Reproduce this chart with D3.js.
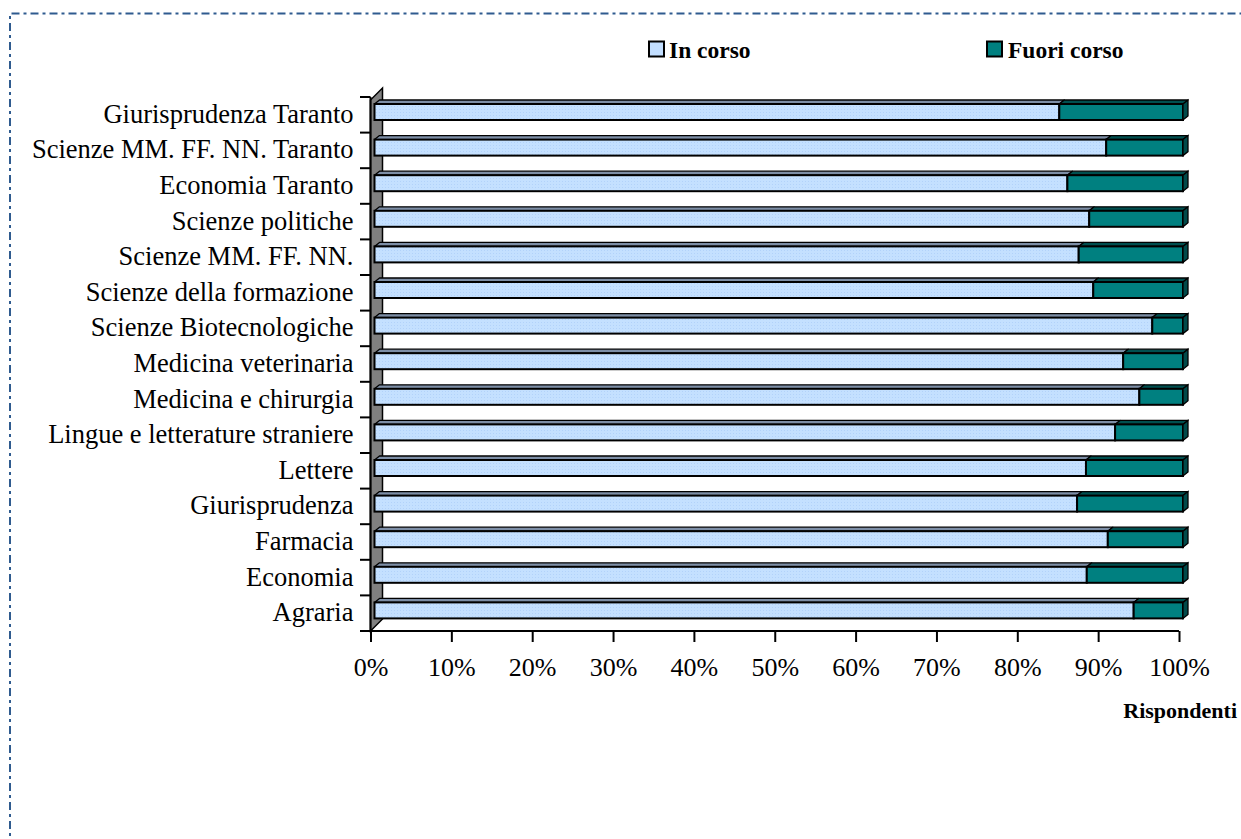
<!DOCTYPE html>
<html><head><meta charset="utf-8">
<script src="https://cdn.jsdelivr.net/npm/d3@7/dist/d3.min.js"></script>
<style>
html,body{margin:0;padding:0;background:#fff;}
svg{display:block;}
text{font-family:"Liberation Serif","Times New Roman",serif;fill:#000;}
</style></head>
<body>
<svg id="chart" width="1241" height="839"></svg>
<script>
const categories = ["Giurisprudenza Taranto","Scienze MM. FF. NN. Taranto","Economia Taranto","Scienze politiche","Scienze MM. FF. NN.","Scienze della formazione","Scienze Biotecnologiche","Medicina veterinaria","Medicina e chirurgia","Lingue e letterature straniere","Lettere","Giurisprudenza","Farmacia","Economia","Agraria"];
const inCorso    = [84.7, 90.5, 85.7, 88.4, 87.1, 88.9, 96.2, 92.6, 94.6, 91.6, 88.0, 86.9, 90.7, 88.1, 93.9];
const fuoriCorso = [15.3,  9.5, 14.3, 11.6, 12.9, 11.1,  3.8,  7.4,  5.4,  8.4, 12.0, 13.1,  9.3, 11.9,  6.1];
const seriesNames = ["In corso","Fuori corso"];
const tickValues = [0,0.1,0.2,0.3,0.4,0.5,0.6,0.7,0.8,0.9,1.0];
const axisTitle = "Rispondenti";

const colors = {front:["#c2deff","#008080"], top:["#7d8ea6","#004f4f"], side:"#004a4a"};

const svg = d3.select("#chart");

// dashed frame
svg.append("path").attr("d","M10,1000 L10,13.5 L1241,13.5")
  .attr("fill","none").attr("stroke","#2f5b8f").attr("stroke-width",2)
  .attr("stroke-dasharray","8,4,3,4");

// pattern for light blue
const defs = svg.append("defs");
const pat = defs.append("pattern").attr("id","dots").attr("width",3).attr("height",3).attr("patternUnits","userSpaceOnUse");
pat.append("rect").attr("width",3).attr("height",3).attr("fill","#c4e0ff");
pat.append("rect").attr("x",1).attr("y",1).attr("width",1).attr("height",1).attr("fill","#b2d2fa");

const x = d3.scaleLinear().domain([0,1]).range([370.5,1179]);
const y = d3.scaleBand().domain(categories).range([97,631]).padding(0);

const depthX = 5, depthY = -4, frontOff = 4, faceTop = 7, faceH = 16;

// back wall
const wallX = x(0);
svg.append("polygon")
  .attr("points",[[wallX,631],[wallX,100],[wallX+12,88],[wallX+12,619]].map(p=>p.join(",")).join(" "))
  .attr("fill","#808080").attr("stroke","#000").attr("stroke-width",1.5);

// category boundary ticks
const bounds = categories.map(c=>y(c)).concat([y.range()[1]]);
svg.append("g").selectAll("line").data(bounds).join("line")
  .attr("x1",360).attr("x2",wallX).attr("y1",d=>d).attr("y2",d=>d)
  .attr("stroke","#000").attr("stroke-width",2);
svg.append("line").attr("x1",wallX).attr("x2",wallX).attr("y1",97).attr("y2",631)
  .attr("stroke","#000").attr("stroke-width",2);

// x axis
const xAxis = d3.axisBottom(x).tickValues(tickValues).tickFormat(d3.format(".0%")).tickSize(11).tickPadding(16);
const gx = svg.append("g").attr("transform","translate(0,631)").call(xAxis);
gx.select(".domain").attr("stroke","#000").attr("stroke-width",2).attr("d","M360,0H1179");
gx.selectAll(".tick line").attr("stroke","#000").attr("stroke-width",2);
gx.selectAll(".tick text").attr("font-family","Liberation Serif").attr("font-size",26).attr("fill","#000");

// y labels
const yAxis = d3.axisLeft(y).tickSize(0).tickPadding(17);
const gy = svg.append("g").attr("transform",`translate(${wallX},0)`).call(yAxis);
gy.select(".domain").remove();
gy.selectAll(".tick text").attr("font-family","Liberation Serif").attr("font-size",26.5).attr("fill","#000").attr("dy","0.3em");

// stacked data
const rows = categories.map((c,i)=>{
  const tot = inCorso[i]+fuoriCorso[i];
  const a = inCorso[i]/tot;
  return {cat:c, segs:[[0,a],[a,1]]};
});

const bars = svg.append("g").selectAll("g").data(rows).join("g");
bars.each(function(r){
  const g = d3.select(this);
  const top = y(r.cat)+faceTop;
  r.segs.forEach((s,k)=>{
    const x0 = x(s[0])+frontOff, x1 = x(s[1])+frontOff;
    g.append("polygon")
      .attr("points",[[x0,top],[x0+depthX,top+depthY],[x1+depthX,top+depthY],[x1,top]].map(p=>p.join(",")).join(" "))
      .attr("fill",colors.top[k]).attr("stroke","#000").attr("stroke-width",1.3).attr("stroke-linejoin","round");
    g.append("rect").attr("x",x0).attr("y",top).attr("width",x1-x0).attr("height",faceH)
      .attr("fill",k===0?"url(#dots)":colors.front[k]).attr("stroke","#000").attr("stroke-width",2);
    if(k===r.segs.length-1){
      g.append("polygon")
        .attr("points",[[x1,top],[x1+depthX,top+depthY],[x1+depthX,top+depthY+faceH],[x1,top+faceH]].map(p=>p.join(",")).join(" "))
        .attr("fill",colors.side).attr("stroke","#000").attr("stroke-width",1.3);
    }
  });
});

// legend
const legX = [649,987], legTextX = [669,1008];
seriesNames.forEach((n,i)=>{
  svg.append("rect").attr("x",legX[i]).attr("y",41.5).attr("width",15).attr("height",15)
    .attr("fill",i===0?colors.front[0]:colors.front[1]).attr("stroke","#000").attr("stroke-width",2);
  svg.append("text").attr("x",legTextX[i]).attr("y",57.5).attr("font-size",23.5).attr("font-weight","bold").text(n);
});

// axis title
svg.append("text").attr("x",1237).attr("y",718).attr("text-anchor","end")
  .attr("font-size",22).attr("font-weight","bold").text(axisTitle);
</script>
</body></html>
